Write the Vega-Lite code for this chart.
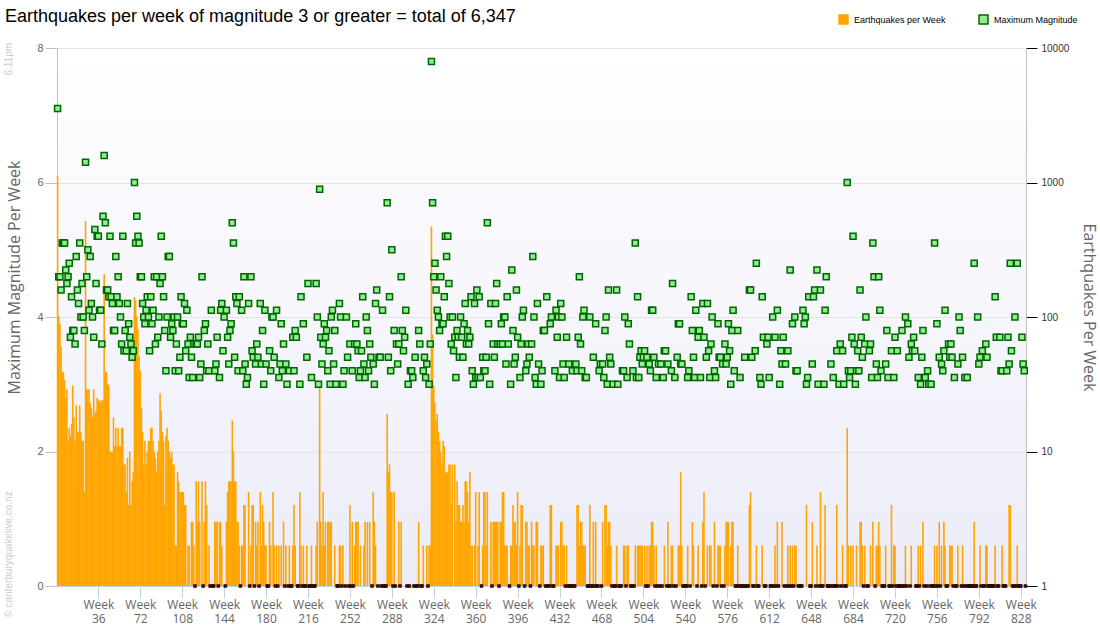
{
  "$schema": "https://vega.github.io/schema/vega-lite/v6.json",
  "width": 969,
  "height": 538,
  "autosize": {"type": "none"},
  "padding": {"left": 57, "top": 48, "right": 74, "bottom": 54},
  "background": "#ffffff",
  "title": {
    "text": "Earthquakes per week of magnitude 3 or greater = total of 6,347",
    "anchor": "start",
    "frame": "group",
    "dx": -52,
    "offset": -12,
    "font": "Liberation Sans",
    "fontSize": 18,
    "fontWeight": "normal",
    "color": "#000000"
  },
  "config": {
    "view": {
      "stroke": null,
      "fill": {"gradient": "linear", "x1": 0, "y1": 0, "x2": 0, "y2": 1,
        "stops": [{"offset": 0, "color": "#ffffff"}, {"offset": 1, "color": "#ececf8"}]}
    },
    "axis": {"labelFont": "Liberation Sans", "titleFont": "Open Sans", "titleFontWeight": "normal"}
  },
  "data": {"values": [
{"w":1,"n":1120,"m":7.1},{"w":2,"n":101,"m":4.6},{"w":3,"n":89,"m":4.6},{"w":4,"n":60,"m":4.4},{"w":5,"n":39,"m":5.1},{"w":6,"n":39,"m":5.1},{"w":7,"n":34,"m":5.1},{"w":8,"n":25,"m":4.7},{"w":9,"n":29,"m":4.5},{"w":10,"n":12,"m":4.6},
{"w":11,"n":15,"m":4.8},{"w":12,"n":13,"m":3.7},{"w":13,"n":16,"m":4.3},{"w":14,"n":31,"m":3.8},{"w":15,"n":18,"m":3.8},{"w":16,"n":12,"m":3.6},{"w":17,"n":22,"m":4.9},{"w":18,"n":14,"m":4.4},{"w":19,"n":14,"m":4.2},{"w":20,"n":22,"m":5.1},
{"w":21,"n":14,"m":4.0},{"w":22,"n":12,"m":4.5},{"w":23,"n":12,"m":4.0},{"w":24,"n":5,"m":3.8},{"w":25,"n":518,"m":6.3},{"w":26,"n":29,"m":4.6},{"w":27,"n":29,"m":5.0},{"w":28,"n":29,"m":4.1},{"w":29,"n":23,"m":4.9},{"w":30,"n":21,"m":4.2},
{"w":31,"n":18,"m":4.0},{"w":32,"n":29,"m":3.7},{"w":33,"n":19,"m":5.3},{"w":34,"n":20,"m":4.5},{"w":35,"n":25,"m":5.2},{"w":36,"n":24,"m":5.2},{"w":37,"n":24,"m":4.1},{"w":38,"n":23,"m":4.1},{"w":39,"n":24,"m":3.6},{"w":40,"n":24,"m":5.5},
{"w":41,"n":208,"m":6.4},{"w":42,"n":39,"m":5.4},{"w":43,"n":39,"m":4.4},{"w":44,"n":32,"m":4.4},{"w":45,"n":31,"m":4.3},{"w":46,"n":10,"m":5.2},{"w":47,"n":10,"m":4.3},{"w":48,"n":10,"m":4.2},{"w":49,"n":18,"m":3.8},{"w":50,"n":11,"m":3.8},
{"w":51,"n":15,"m":4.9},{"w":52,"n":11,"m":4.3},{"w":53,"n":15,"m":4.6},{"w":54,"n":11,"m":4.2},{"w":55,"n":11,"m":4.0},{"w":56,"n":15,"m":3.6},{"w":57,"n":15,"m":5.2},{"w":58,"n":8,"m":3.5},{"w":59,"n":8,"m":3.8},{"w":60,"n":5,"m":3.5},
{"w":61,"n":9,"m":4.2},{"w":62,"n":4,"m":3.9},{"w":63,"n":10,"m":3.7},{"w":64,"n":4,"m":3.6},{"w":65,"n":6,"m":3.4},{"w":66,"n":7,"m":3.5},{"w":67,"n":140,"m":6.0},{"w":68,"n":133,"m":5.1},{"w":69,"n":101,"m":5.5},{"w":70,"n":81,"m":5.2},
{"w":71,"n":51,"m":5.1},{"w":72,"n":40,"m":4.6},{"w":73,"n":21,"m":4.6},{"w":74,"n":14,"m":4.2},{"w":75,"n":8,"m":4.0},{"w":76,"n":12,"m":3.9},{"w":77,"n":8,"m":4.1},{"w":78,"n":10,"m":4.3},{"w":79,"n":12,"m":4.0},{"w":80,"n":12,"m":3.5},
{"w":81,"n":15,"m":4.3},{"w":82,"n":15,"m":3.9},{"w":83,"n":12,"m":4.1},{"w":84,"n":10,"m":4.6},{"w":85,"n":9,"m":3.6},{"w":86,"n":7,"m":4.6},{"w":87,"n":10,"m":3.7},{"w":88,"n":12,"m":4.0},{"w":89,"n":27,"m":4.5},{"w":90,"n":20,"m":5.2},
{"w":91,"n":14,"m":4.6},{"w":92,"n":12,"m":4.3},{"w":93,"n":4,"m":3.8},{"w":94,"n":13,"m":3.2},{"w":95,"n":15,"m":4.0},{"w":96,"n":12,"m":4.9},{"w":97,"n":10,"m":4.9},{"w":98,"n":9,"m":3.7},{"w":99,"n":10,"m":3.9},{"w":100,"n":8,"m":3.8},
{"w":101,"n":8,"m":4.0},{"w":102,"n":2,"m":3.2},{"w":103,"n":2,"m":3.6},{"w":104,"n":7,"m":4.0},{"w":105,"n":6,"m":3.2},{"w":106,"n":5,"m":3.4},{"w":107,"n":5,"m":4.3},{"w":108,"n":5,"m":3.9},{"w":109,"n":5,"m":3.9},{"w":110,"n":4,"m":4.2},
{"w":111,"n":4,"m":3.5},{"w":112,"n":1,"m":4.1},{"w":113,"n":2,"m":3.6},{"w":114,"n":2,"m":3.1},{"w":115,"n":1,"m":3.7},{"w":116,"n":3,"m":3.4},{"w":117,"n":3,"m":3.1},{"w":118,"n":2,"m":3.6},{"w":119,"n":0,"m":0},{"w":120,"n":6,"m":3.6},
{"w":121,"n":3,"m":3.6},{"w":122,"n":6,"m":3.7},{"w":123,"n":3,"m":3.1},{"w":124,"n":1,"m":3.3},{"w":125,"n":6,"m":4.6},{"w":126,"n":0,"m":0},{"w":127,"n":3,"m":3.8},{"w":128,"n":6,"m":3.9},{"w":129,"n":4,"m":3.2},{"w":130,"n":1,"m":3.6},
{"w":131,"n":2,"m":3.2},{"w":132,"n":0,"m":0},{"w":133,"n":1,"m":4.1},{"w":134,"n":0,"m":0},{"w":135,"n":0,"m":0},{"w":136,"n":3,"m":3.2},{"w":137,"n":3,"m":3.3},{"w":138,"n":3,"m":3.7},{"w":139,"n":0,"m":0},{"w":140,"n":3,"m":3.1},
{"w":141,"n":3,"m":4.1},{"w":142,"n":2,"m":4.2},{"w":143,"n":1,"m":3.5},{"w":144,"n":1,"m":4.0},{"w":145,"n":0,"m":0},{"w":146,"n":3,"m":4.1},{"w":147,"n":5,"m":3.7},{"w":148,"n":6,"m":3.3},{"w":149,"n":6,"m":3.8},{"w":150,"n":6,"m":3.9},
{"w":151,"n":17,"m":5.4},{"w":152,"n":10,"m":5.1},{"w":153,"n":6,"m":3.4},{"w":154,"n":6,"m":4.3},{"w":155,"n":3,"m":4.2},{"w":156,"n":3,"m":3.2},{"w":157,"n":2,"m":4.3},{"w":158,"n":0,"m":0},{"w":159,"n":2,"m":4.1},{"w":160,"n":2,"m":3.2},
{"w":161,"n":4,"m":4.6},{"w":162,"n":4,"m":3.3},{"w":163,"n":1,"m":3.0},{"w":164,"n":1,"m":3.1},{"w":165,"n":5,"m":4.2},{"w":166,"n":0,"m":0},{"w":167,"n":2,"m":4.6},{"w":168,"n":4,"m":3.5},{"w":169,"n":4,"m":3.4},{"w":170,"n":0,"m":0},
{"w":171,"n":3,"m":3.3},{"w":172,"n":2,"m":3.6},{"w":173,"n":3,"m":3.4},{"w":174,"n":0,"m":0},{"w":175,"n":5,"m":4.2},{"w":176,"n":2,"m":3.3},{"w":177,"n":4,"m":3.8},{"w":178,"n":3,"m":3.0},{"w":179,"n":2,"m":4.1},{"w":180,"n":2,"m":3.3},
{"w":181,"n":0,"m":0},{"w":182,"n":0,"m":0},{"w":183,"n":3,"m":3.5},{"w":184,"n":2,"m":3.2},{"w":185,"n":1,"m":4.0},{"w":186,"n":5,"m":4.0},{"w":187,"n":2,"m":3.4},{"w":188,"n":0,"m":0},{"w":189,"n":2,"m":4.1},{"w":190,"n":0,"m":0},
{"w":191,"n":2,"m":3.1},{"w":192,"n":1,"m":3.3},{"w":193,"n":2,"m":3.9},{"w":194,"n":1,"m":3.2},{"w":195,"n":3,"m":3.6},{"w":196,"n":0,"m":0},{"w":197,"n":2,"m":3.3},{"w":198,"n":1,"m":3.0},{"w":199,"n":0,"m":0},{"w":200,"n":2,"m":3.2},
{"w":201,"n":0,"m":0},{"w":202,"n":0,"m":0},{"w":203,"n":2,"m":3.7},{"w":204,"n":4,"m":3.2},{"w":205,"n":2,"m":3.8},{"w":206,"n":1,"m":3.7},{"w":207,"n":0,"m":0},{"w":208,"n":0,"m":0},{"w":209,"n":5,"m":3.0},{"w":210,"n":2,"m":4.3},
{"w":211,"n":0,"m":0},{"w":212,"n":2,"m":3.9},{"w":213,"n":0,"m":0},{"w":214,"n":0,"m":0},{"w":215,"n":2,"m":3.4},{"w":216,"n":1,"m":4.5},{"w":217,"n":0,"m":0},{"w":218,"n":0,"m":0},{"w":219,"n":2,"m":3.1},{"w":220,"n":0,"m":0},
{"w":221,"n":0,"m":0},{"w":222,"n":0,"m":0},{"w":223,"n":2,"m":4.5},{"w":224,"n":3,"m":4.0},{"w":225,"n":1,"m":3.0},{"w":226,"n":30,"m":5.9},{"w":227,"n":3,"m":3.7},{"w":228,"n":2,"m":3.3},{"w":229,"n":5,"m":3.6},{"w":230,"n":2,"m":3.9},
{"w":231,"n":3,"m":3.7},{"w":232,"n":1,"m":3.8},{"w":233,"n":3,"m":3.2},{"w":234,"n":3,"m":3.5},{"w":235,"n":3,"m":3.0},{"w":236,"n":3,"m":4.0},{"w":237,"n":1,"m":4.1},{"w":238,"n":1,"m":3.3},{"w":239,"n":2,"m":3.8},{"w":240,"n":1,"m":3.0},
{"w":241,"n":0,"m":0},{"w":242,"n":0,"m":0},{"w":243,"n":2,"m":4.2},{"w":244,"n":2,"m":4.0},{"w":245,"n":0,"m":0},{"w":246,"n":2,"m":3.0},{"w":247,"n":1,"m":3.2},{"w":248,"n":0,"m":0},{"w":249,"n":1,"m":4.0},{"w":250,"n":1,"m":3.4},
{"w":251,"n":0,"m":0},{"w":252,"n":4,"m":3.6},{"w":253,"n":0,"m":0},{"w":254,"n":3,"m":3.2},{"w":255,"n":0,"m":0},{"w":256,"n":2,"m":3.6},{"w":257,"n":3,"m":3.9},{"w":258,"n":3,"m":3.6},{"w":259,"n":3,"m":3.5},{"w":260,"n":1,"m":3.1},
{"w":261,"n":2,"m":3.2},{"w":262,"n":1,"m":3.5},{"w":263,"n":1,"m":4.3},{"w":264,"n":2,"m":3.3},{"w":265,"n":3,"m":3.1},{"w":266,"n":1,"m":4.0},{"w":267,"n":3,"m":3.8},{"w":268,"n":1,"m":3.2},{"w":269,"n":3,"m":3.6},{"w":270,"n":1,"m":3.4},
{"w":271,"n":0,"m":0},{"w":272,"n":5,"m":3.3},{"w":273,"n":3,"m":3.0},{"w":274,"n":2,"m":4.2},{"w":275,"n":1,"m":4.4},{"w":276,"n":0,"m":0},{"w":277,"n":1,"m":3.4},{"w":278,"n":1,"m":3.4},{"w":279,"n":0,"m":0},{"w":280,"n":1,"m":4.1},
{"w":281,"n":0,"m":0},{"w":282,"n":0,"m":0},{"w":283,"n":0,"m":0},{"w":284,"n":19,"m":5.7},{"w":285,"n":7,"m":3.4},{"w":286,"n":8,"m":4.3},{"w":287,"n":5,"m":3.2},{"w":288,"n":5,"m":5.0},{"w":289,"n":0,"m":0},{"w":290,"n":5,"m":3.8},
{"w":291,"n":0,"m":0},{"w":292,"n":1,"m":3.6},{"w":293,"n":1,"m":3.3},{"w":294,"n":3,"m":3.6},{"w":295,"n":0,"m":0},{"w":296,"n":3,"m":4.6},{"w":297,"n":1,"m":3.8},{"w":298,"n":1,"m":3.5},{"w":299,"n":1,"m":3.7},{"w":300,"n":1,"m":4.1},
{"w":301,"n":0,"m":0},{"w":302,"n":1,"m":3.0},{"w":303,"n":0,"m":0},{"w":304,"n":1,"m":3.2},{"w":305,"n":1,"m":3.2},{"w":306,"n":1,"m":3.1},{"w":307,"n":0,"m":0},{"w":308,"n":1,"m":3.4},{"w":309,"n":0,"m":0},{"w":310,"n":0,"m":0},
{"w":311,"n":3,"m":3.8},{"w":312,"n":1,"m":3.6},{"w":313,"n":0,"m":0},{"w":314,"n":0,"m":0},{"w":315,"n":2,"m":3.2},{"w":316,"n":1,"m":3.4},{"w":317,"n":1,"m":3.1},{"w":318,"n":2,"m":3.3},{"w":319,"n":0,"m":0},{"w":320,"n":2,"m":3.0},
{"w":321,"n":2,"m":3.6},{"w":322,"n":473,"m":7.8},{"w":323,"n":74,"m":5.7},{"w":324,"n":31,"m":4.6},{"w":325,"n":23,"m":4.8},{"w":326,"n":17,"m":4.4},{"w":327,"n":19,"m":4.1},{"w":328,"n":14,"m":4.0},{"w":329,"n":12,"m":3.8},{"w":330,"n":10,"m":4.6},
{"w":331,"n":8,"m":3.9},{"w":332,"n":12,"m":3.9},{"w":333,"n":11,"m":4.3},{"w":334,"n":7,"m":5.2},{"w":335,"n":7,"m":4.9},{"w":336,"n":7,"m":5.2},{"w":337,"n":8,"m":4.5},{"w":338,"n":8,"m":4.0},{"w":339,"n":4,"m":3.6},{"w":340,"n":8,"m":4.0},
{"w":341,"n":1,"m":3.5},{"w":342,"n":8,"m":3.7},{"w":343,"n":3,"m":3.1},{"w":344,"n":6,"m":3.8},{"w":345,"n":4,"m":3.7},{"w":346,"n":4,"m":3.4},{"w":347,"n":3,"m":4.0},{"w":348,"n":3,"m":3.7},{"w":349,"n":4,"m":3.4},{"w":350,"n":3,"m":3.9},
{"w":351,"n":6,"m":4.2},{"w":352,"n":6,"m":3.6},{"w":353,"n":5,"m":3.8},{"w":354,"n":3,"m":3.6},{"w":355,"n":7,"m":3.7},{"w":356,"n":2,"m":4.3},{"w":357,"n":2,"m":3.2},{"w":358,"n":1,"m":3.0},{"w":359,"n":2,"m":4.2},{"w":360,"n":5,"m":3.1},
{"w":361,"n":1,"m":4.4},{"w":362,"n":2,"m":3.1},{"w":363,"n":5,"m":4.3},{"w":364,"n":1,"m":3.1},{"w":365,"n":0,"m":0},{"w":366,"n":2,"m":3.4},{"w":367,"n":5,"m":3.2},{"w":368,"n":5,"m":3.2},{"w":369,"n":2,"m":3.4},{"w":370,"n":5,"m":5.4},
{"w":371,"n":1,"m":3.9},{"w":372,"n":1,"m":3.0},{"w":373,"n":3,"m":4.2},{"w":374,"n":0,"m":0},{"w":375,"n":3,"m":3.6},{"w":376,"n":3,"m":3.4},{"w":377,"n":3,"m":4.2},{"w":378,"n":3,"m":4.5},{"w":379,"n":3,"m":3.6},{"w":380,"n":0,"m":0},
{"w":381,"n":3,"m":3.6},{"w":382,"n":3,"m":3.9},{"w":383,"n":5,"m":3.6},{"w":384,"n":5,"m":4.0},{"w":385,"n":2,"m":4.0},{"w":386,"n":2,"m":3.3},{"w":387,"n":2,"m":4.3},{"w":388,"n":1,"m":3.6},{"w":389,"n":0,"m":0},{"w":390,"n":2,"m":3.0},
{"w":391,"n":2,"m":4.7},{"w":392,"n":4,"m":3.8},{"w":393,"n":3,"m":3.3},{"w":394,"n":3,"m":3.4},{"w":395,"n":2,"m":4.4},{"w":396,"n":5,"m":3.7},{"w":397,"n":0,"m":0},{"w":398,"n":2,"m":3.1},{"w":399,"n":4,"m":3.6},{"w":400,"n":4,"m":4.0},
{"w":401,"n":1,"m":4.1},{"w":402,"n":0,"m":0},{"w":403,"n":3,"m":3.2},{"w":404,"n":3,"m":3.3},{"w":405,"n":2,"m":3.6},{"w":406,"n":2,"m":3.4},{"w":407,"n":0,"m":0},{"w":408,"n":3,"m":3.6},{"w":409,"n":2,"m":4.9},{"w":410,"n":2,"m":4.0},
{"w":411,"n":1,"m":3.1},{"w":412,"n":3,"m":3.0},{"w":413,"n":3,"m":4.2},{"w":414,"n":1,"m":3.3},{"w":415,"n":0,"m":0},{"w":416,"n":2,"m":3.0},{"w":417,"n":2,"m":3.2},{"w":418,"n":2,"m":3.8},{"w":419,"n":1,"m":3.8},{"w":420,"n":0,"m":0},
{"w":421,"n":1,"m":4.3},{"w":422,"n":0,"m":0},{"w":423,"n":0,"m":0},{"w":424,"n":4,"m":3.9},{"w":425,"n":4,"m":4.0},{"w":426,"n":0,"m":0},{"w":427,"n":0,"m":0},{"w":428,"n":1,"m":3.2},{"w":429,"n":2,"m":4.1},{"w":430,"n":2,"m":3.7},
{"w":431,"n":2,"m":4.0},{"w":432,"n":1,"m":3.1},{"w":433,"n":3,"m":4.2},{"w":434,"n":3,"m":4.0},{"w":435,"n":2,"m":3.3},{"w":436,"n":2,"m":3.1},{"w":437,"n":0,"m":0},{"w":438,"n":2,"m":3.7},{"w":439,"n":0,"m":0},{"w":440,"n":1,"m":3.3},
{"w":441,"n":0,"m":0},{"w":442,"n":0,"m":0},{"w":443,"n":1,"m":3.2},{"w":444,"n":0,"m":0},{"w":445,"n":0,"m":0},{"w":446,"n":1,"m":3.3},{"w":447,"n":4,"m":3.2},{"w":448,"n":4,"m":3.7},{"w":449,"n":2,"m":4.6},{"w":450,"n":3,"m":3.6},
{"w":451,"n":3,"m":3.2},{"w":452,"n":2,"m":4.0},{"w":453,"n":2,"m":4.1},{"w":454,"n":2,"m":3.1},{"w":455,"n":1,"m":3.1},{"w":456,"n":0,"m":0},{"w":457,"n":0,"m":0},{"w":458,"n":4,"m":4.0},{"w":459,"n":0,"m":0},{"w":460,"n":0,"m":0},
{"w":461,"n":3,"m":3.4},{"w":462,"n":0,"m":0},{"w":463,"n":3,"m":3.9},{"w":464,"n":0,"m":0},{"w":465,"n":0,"m":0},{"w":466,"n":1,"m":3.2},{"w":467,"n":1,"m":3.3},{"w":468,"n":0,"m":0},{"w":469,"n":3,"m":3.3},{"w":470,"n":1,"m":3.1},
{"w":471,"n":4,"m":3.8},{"w":472,"n":4,"m":4.0},{"w":473,"n":2,"m":3.0},{"w":474,"n":3,"m":4.4},{"w":475,"n":3,"m":3.4},{"w":476,"n":2,"m":3.3},{"w":477,"n":0,"m":0},{"w":478,"n":1,"m":3.0},{"w":479,"n":0,"m":0},{"w":480,"n":0,"m":0},
{"w":481,"n":2,"m":4.4},{"w":482,"n":1,"m":3.0},{"w":483,"n":0,"m":0},{"w":484,"n":0,"m":0},{"w":485,"n":0,"m":0},{"w":486,"n":1,"m":3.2},{"w":487,"n":2,"m":3.2},{"w":488,"n":2,"m":4.0},{"w":489,"n":0,"m":0},{"w":490,"n":2,"m":3.1},
{"w":491,"n":2,"m":3.9},{"w":492,"n":1,"m":3.6},{"w":493,"n":0,"m":0},{"w":494,"n":0,"m":0},{"w":495,"n":1,"m":3.2},{"w":496,"n":0,"m":0},{"w":497,"n":2,"m":5.1},{"w":498,"n":1,"m":3.1},{"w":499,"n":2,"m":4.3},{"w":500,"n":2,"m":3.1},
{"w":501,"n":2,"m":3.4},{"w":502,"n":2,"m":3.5},{"w":503,"n":2,"m":3.3},{"w":504,"n":1,"m":3.4},{"w":505,"n":2,"m":3.5},{"w":506,"n":0,"m":0},{"w":507,"n":2,"m":3.4},{"w":508,"n":0,"m":0},{"w":509,"n":2,"m":3.3},{"w":510,"n":2,"m":3.2},
{"w":511,"n":3,"m":4.1},{"w":512,"n":3,"m":4.1},{"w":513,"n":2,"m":3.4},{"w":514,"n":0,"m":0},{"w":515,"n":2,"m":3.1},{"w":516,"n":0,"m":0},{"w":517,"n":1,"m":3.3},{"w":518,"n":0,"m":0},{"w":519,"n":1,"m":3.3},{"w":520,"n":0,"m":0},
{"w":521,"n":1,"m":3.1},{"w":522,"n":2,"m":3.5},{"w":523,"n":1,"m":3.5},{"w":524,"n":0,"m":0},{"w":525,"n":3,"m":3.3},{"w":526,"n":0,"m":0},{"w":527,"n":0,"m":0},{"w":528,"n":2,"m":3.2},{"w":529,"n":2,"m":4.5},{"w":530,"n":0,"m":0},
{"w":531,"n":1,"m":3.1},{"w":532,"n":0,"m":0},{"w":533,"n":1,"m":3.4},{"w":534,"n":2,"m":3.9},{"w":535,"n":2,"m":3.9},{"w":536,"n":7,"m":3.3},{"w":537,"n":2,"m":3.3},{"w":538,"n":0,"m":0},{"w":539,"n":0,"m":0},{"w":540,"n":0,"m":0},
{"w":541,"n":0,"m":0},{"w":542,"n":2,"m":3.1},{"w":543,"n":1,"m":3.2},{"w":544,"n":0,"m":0},{"w":545,"n":1,"m":4.3},{"w":546,"n":3,"m":3.8},{"w":547,"n":2,"m":3.4},{"w":548,"n":1,"m":3.1},{"w":549,"n":1,"m":4.1},{"w":550,"n":0,"m":0},
{"w":551,"n":2,"m":3.7},{"w":552,"n":1,"m":3.8},{"w":553,"n":1,"m":3.1},{"w":554,"n":0,"m":0},{"w":555,"n":3,"m":4.2},{"w":556,"n":5,"m":3.7},{"w":557,"n":0,"m":0},{"w":558,"n":1,"m":3.4},{"w":559,"n":2,"m":4.2},{"w":560,"n":1,"m":3.5},
{"w":561,"n":2,"m":3.1},{"w":562,"n":2,"m":3.6},{"w":563,"n":1,"m":4.0},{"w":564,"n":0,"m":0},{"w":565,"n":3,"m":3.2},{"w":566,"n":1,"m":3.1},{"w":567,"n":0,"m":0},{"w":568,"n":2,"m":3.9},{"w":569,"n":2,"m":3.4},{"w":570,"n":2,"m":3.4},
{"w":571,"n":0,"m":0},{"w":572,"n":1,"m":3.3},{"w":573,"n":0,"m":0},{"w":574,"n":2,"m":3.6},{"w":575,"n":3,"m":3.3},{"w":576,"n":3,"m":3.4},{"w":577,"n":3,"m":3.9},{"w":578,"n":1,"m":3.5},{"w":579,"n":2,"m":3.0},{"w":580,"n":3,"m":3.8},
{"w":581,"n":3,"m":4.1},{"w":582,"n":1,"m":3.2},{"w":583,"n":0,"m":0},{"w":584,"n":0,"m":0},{"w":585,"n":2,"m":3.8},{"w":586,"n":0,"m":0},{"w":587,"n":1,"m":3.1},{"w":588,"n":0,"m":0},{"w":589,"n":0,"m":0},{"w":590,"n":0,"m":0},
{"w":591,"n":1,"m":3.4},{"w":592,"n":0,"m":0},{"w":593,"n":0,"m":0},{"w":594,"n":0,"m":0},{"w":595,"n":4,"m":4.4},{"w":596,"n":5,"m":4.4},{"w":597,"n":1,"m":3.4},{"w":598,"n":0,"m":0},{"w":599,"n":0,"m":0},{"w":600,"n":1,"m":3.5},
{"w":601,"n":2,"m":4.8},{"w":602,"n":0,"m":0},{"w":603,"n":0,"m":0},{"w":604,"n":1,"m":3.1},{"w":605,"n":1,"m":3.0},{"w":606,"n":2,"m":4.3},{"w":607,"n":1,"m":3.7},{"w":608,"n":0,"m":0},{"w":609,"n":0,"m":0},{"w":610,"n":1,"m":3.6},
{"w":611,"n":1,"m":3.7},{"w":612,"n":1,"m":3.1},{"w":613,"n":0,"m":0},{"w":614,"n":0,"m":0},{"w":615,"n":1,"m":4.0},{"w":616,"n":0,"m":0},{"w":617,"n":2,"m":3.7},{"w":618,"n":0,"m":0},{"w":619,"n":3,"m":4.1},{"w":620,"n":0,"m":0},
{"w":621,"n":1,"m":3.0},{"w":622,"n":1,"m":3.5},{"w":623,"n":3,"m":3.3},{"w":624,"n":1,"m":3.7},{"w":625,"n":0,"m":0},{"w":626,"n":1,"m":3.3},{"w":627,"n":0,"m":0},{"w":628,"n":2,"m":3.5},{"w":629,"n":0,"m":0},{"w":630,"n":2,"m":4.7},
{"w":631,"n":0,"m":0},{"w":632,"n":2,"m":3.9},{"w":633,"n":0,"m":0},{"w":634,"n":2,"m":4.0},{"w":635,"n":2,"m":3.2},{"w":636,"n":1,"m":3.2},{"w":637,"n":0,"m":0},{"w":638,"n":0,"m":0},{"w":639,"n":0,"m":0},{"w":640,"n":0,"m":0},
{"w":641,"n":1,"m":4.1},{"w":642,"n":1,"m":3.9},{"w":643,"n":1,"m":4.0},{"w":644,"n":4,"m":3.0},{"w":645,"n":1,"m":3.1},{"w":646,"n":1,"m":4.3},{"w":647,"n":0,"m":0},{"w":648,"n":0,"m":0},{"w":649,"n":3,"m":3.3},{"w":650,"n":1,"m":4.3},
{"w":651,"n":1,"m":4.4},{"w":652,"n":0,"m":0},{"w":653,"n":2,"m":4.7},{"w":654,"n":1,"m":3.0},{"w":655,"n":0,"m":0},{"w":656,"n":5,"m":4.4},{"w":657,"n":0,"m":0},{"w":658,"n":0,"m":0},{"w":659,"n":1,"m":3.0},{"w":660,"n":4,"m":4.1},
{"w":661,"n":1,"m":4.6},{"w":662,"n":0,"m":0},{"w":663,"n":0,"m":0},{"w":664,"n":0,"m":0},{"w":665,"n":1,"m":3.3},{"w":666,"n":0,"m":0},{"w":667,"n":1,"m":3.1},{"w":668,"n":0,"m":0},{"w":669,"n":0,"m":0},{"w":670,"n":4,"m":3.5},
{"w":671,"n":0,"m":0},{"w":672,"n":1,"m":3.0},{"w":673,"n":1,"m":3.6},{"w":674,"n":0,"m":0},{"w":675,"n":2,"m":3.5},{"w":676,"n":1,"m":3.0},{"w":677,"n":0,"m":0},{"w":678,"n":0,"m":0},{"w":679,"n":15,"m":6.0},{"w":680,"n":2,"m":3.2},
{"w":681,"n":1,"m":3.1},{"w":682,"n":2,"m":3.2},{"w":683,"n":1,"m":3.7},{"w":684,"n":2,"m":5.2},{"w":685,"n":1,"m":3.6},{"w":686,"n":1,"m":3.0},{"w":687,"n":2,"m":3.2},{"w":688,"n":1,"m":3.5},{"w":689,"n":1,"m":3.2},{"w":690,"n":3,"m":4.4},
{"w":691,"n":3,"m":3.7},{"w":692,"n":2,"m":3.4},{"w":693,"n":0,"m":0},{"w":694,"n":2,"m":3.6},{"w":695,"n":1,"m":4.0},{"w":696,"n":0,"m":0},{"w":697,"n":0,"m":0},{"w":698,"n":1,"m":3.5},{"w":699,"n":2,"m":3.6},{"w":700,"n":1,"m":3.1},
{"w":701,"n":3,"m":5.1},{"w":702,"n":1,"m":4.6},{"w":703,"n":0,"m":0},{"w":704,"n":2,"m":3.3},{"w":705,"n":2,"m":3.1},{"w":706,"n":3,"m":4.6},{"w":707,"n":2,"m":4.1},{"w":708,"n":1,"m":3.2},{"w":709,"n":0,"m":0},{"w":710,"n":0,"m":0},
{"w":711,"n":0,"m":0},{"w":712,"n":2,"m":3.3},{"w":713,"n":1,"m":3.8},{"w":714,"n":1,"m":3.1},{"w":715,"n":0,"m":0},{"w":716,"n":0,"m":0},{"w":717,"n":4,"m":3.5},{"w":718,"n":0,"m":0},{"w":719,"n":2,"m":3.1},{"w":720,"n":2,"m":3.7},
{"w":721,"n":0,"m":0},{"w":722,"n":1,"m":3.5},{"w":723,"n":0,"m":0},{"w":724,"n":0,"m":0},{"w":725,"n":0,"m":0},{"w":726,"n":1,"m":3.8},{"w":727,"n":0,"m":0},{"w":728,"n":0,"m":0},{"w":729,"n":2,"m":4.0},{"w":730,"n":0,"m":0},
{"w":731,"n":1,"m":3.9},{"w":732,"n":1,"m":3.4},{"w":733,"n":0,"m":0},{"w":734,"n":2,"m":3.6},{"w":735,"n":1,"m":3.5},{"w":736,"n":1,"m":3.7},{"w":737,"n":1,"m":3.5},{"w":738,"n":0,"m":0},{"w":739,"n":0,"m":0},{"w":740,"n":2,"m":3.1},
{"w":741,"n":0,"m":0},{"w":742,"n":2,"m":3.0},{"w":743,"n":1,"m":3.4},{"w":744,"n":3,"m":3.8},{"w":745,"n":0,"m":0},{"w":746,"n":1,"m":3.1},{"w":747,"n":0,"m":0},{"w":748,"n":1,"m":3.2},{"w":749,"n":1,"m":3.0},{"w":750,"n":0,"m":0},
{"w":751,"n":1,"m":3.0},{"w":752,"n":0,"m":0},{"w":753,"n":0,"m":0},{"w":754,"n":2,"m":5.1},{"w":755,"n":0,"m":0},{"w":756,"n":2,"m":3.9},{"w":757,"n":0,"m":0},{"w":758,"n":3,"m":3.4},{"w":759,"n":0,"m":0},{"w":760,"n":2,"m":3.3},
{"w":761,"n":1,"m":3.2},{"w":762,"n":3,"m":3.5},{"w":763,"n":2,"m":4.1},{"w":764,"n":0,"m":0},{"w":765,"n":0,"m":0},{"w":766,"n":1,"m":3.6},{"w":767,"n":2,"m":3.4},{"w":768,"n":2,"m":3.6},{"w":769,"n":2,"m":3.4},{"w":770,"n":0,"m":0},
{"w":771,"n":1,"m":3.1},{"w":772,"n":0,"m":0},{"w":773,"n":0,"m":0},{"w":774,"n":2,"m":3.3},{"w":775,"n":1,"m":4.0},{"w":776,"n":1,"m":3.8},{"w":777,"n":0,"m":0},{"w":778,"n":2,"m":3.4},{"w":779,"n":0,"m":0},{"w":780,"n":1,"m":3.1},
{"w":781,"n":0,"m":0},{"w":782,"n":1,"m":3.1},{"w":783,"n":0,"m":0},{"w":784,"n":0,"m":0},{"w":785,"n":0,"m":0},{"w":786,"n":0,"m":0},{"w":787,"n":0,"m":0},{"w":788,"n":3,"m":4.8},{"w":789,"n":0,"m":0},{"w":790,"n":0,"m":0},
{"w":791,"n":1,"m":4.0},{"w":792,"n":1,"m":3.3},{"w":793,"n":2,"m":3.4},{"w":794,"n":0,"m":0},{"w":795,"n":1,"m":3.5},{"w":796,"n":0,"m":0},{"w":797,"n":0,"m":0},{"w":798,"n":2,"m":3.6},{"w":799,"n":2,"m":3.4},{"w":800,"n":0,"m":0},
{"w":801,"n":0,"m":0},{"w":802,"n":0,"m":0},{"w":803,"n":0,"m":0},{"w":804,"n":0,"m":0},{"w":805,"n":0,"m":0},{"w":806,"n":2,"m":4.3},{"w":807,"n":1,"m":3.7},{"w":808,"n":0,"m":0},{"w":809,"n":0,"m":0},{"w":810,"n":1,"m":3.7},
{"w":811,"n":1,"m":3.2},{"w":812,"n":2,"m":3.2},{"w":813,"n":0,"m":0},{"w":814,"n":0,"m":0},{"w":815,"n":0,"m":0},{"w":816,"n":1,"m":3.2},{"w":817,"n":1,"m":3.7},{"w":818,"n":4,"m":3.3},{"w":819,"n":4,"m":4.8},{"w":820,"n":1,"m":3.5},
{"w":821,"n":0,"m":0},{"w":822,"n":0,"m":0},{"w":823,"n":1,"m":4.0},{"w":824,"n":0,"m":0},{"w":825,"n":2,"m":4.8},{"w":826,"n":0,"m":0},{"w":827,"n":0,"m":0},{"w":828,"n":0,"m":0},{"w":829,"n":1,"m":3.7},{"w":830,"n":1,"m":3.3},
{"w":831,"n":1,"m":3.2},{"w":832,"n":0,"m":0}
  ]},
  "encoding": {
    "x": {
      "field": "w",
      "type": "quantitative",
      "scale": {"domain": [0.5, 832.5], "nice": false, "zero": false, "padding": 0},
      "axis": {
        "values": [36, 72, 108, 144, 180, 216, 252, 288, 324, 360, 396, 432, 468, 504, 540, 576, 612, 648, 684, 720, 756, 792, 828],
        "labelExpr": "['Week', datum.label]",
        "title": null,
        "grid": false,
        "domainColor": "#C0D0E0",
        "tickColor": "#C0D0E0",
        "tickSize": 12,
        "labelColor": "#666666",
        "labelFont": "Open Sans",
        "labelFontSize": 12,
        "labelPadding": 1,
        "labelLineHeight": 14,
        "labelAngle": 0,
        "labelOverlap": false,
        "labelFlush": false
      }
    }
  },
  "layer": [
    {
      "transform": [{"filter": "datum.n > 0"}],
      "mark": {"type": "bar", "width": 1.6, "strokeWidth": 0},
      "encoding": {
        "y": {
          "field": "n",
          "type": "quantitative",
          "scale": {"type": "log", "domain": [1, 10000], "nice": false},
          "axis": {
            "orient": "right",
            "values": [1, 10, 100, 1000, 10000],
            "format": "d",
            "title": "Earthquakes Per Week",
            "titleColor": "#666666",
            "titleFontSize": 16,
            "titlePadding": 12,
            "titleY": 259,
            "labelColor": "#333333",
            "labelFontSize": 10,
            "labelPadding": 4,
            "tickColor": "#000000",
            "tickSize": 11,
            "domainColor": "#C0C0C0",
            "grid": false,
            "labelFlush": false
          }
        },
        "y2": {"datum": 1},
        "fill": {
          "datum": "Earthquakes per Week",
          "type": "nominal",
          "scale": {"domain": ["Earthquakes per Week", "Maximum Magnitude"], "range": ["#FFA500", "#90EE90"]},
          "legend": {"title": null, "orient": "none", "legendX": 781, "legendY": -34, "direction": "horizontal", "columns": 2, "columnPadding": 30, "symbolType": "square", "symbolSize": 80, "symbolStrokeWidth": 1.5, "labelFont": "Liberation Sans", "labelFontSize": 9, "labelColor": "#000000", "labelOffset": 5}
        },
        "stroke": {
          "datum": "Earthquakes per Week",
          "type": "nominal",
          "scale": {"domain": ["Earthquakes per Week", "Maximum Magnitude"], "range": ["#FFA500", "#006400"]},
          "legend": {"title": null, "orient": "none", "legendX": 781, "legendY": -34, "direction": "horizontal", "columns": 2, "columnPadding": 30, "symbolType": "square", "symbolSize": 80, "symbolStrokeWidth": 1.5, "labelFont": "Liberation Sans", "labelFontSize": 9, "labelColor": "#000000", "labelOffset": 5}
        }
      }
    },
    {
      "mark": {"type": "point", "shape": "square", "filled": true, "opacity": 1},
      "encoding": {
        "y": {
          "field": "m",
          "type": "quantitative",
          "scale": {"domain": [0, 8], "nice": false},
          "axis": {
            "orient": "left",
            "values": [0, 2, 4, 6, 8],
            "title": "Maximum Magnitude Per Week",
            "titleColor": "#666666",
            "titleFontSize": 16,
            "titlePadding": 14,
            "titleY": 229,
            "labelColor": "#666666",
            "labelFontSize": 11,
            "labelPadding": 2,
            "tickColor": "#C0C0C0",
            "tickSize": 12,
            "domainColor": "#C0C0C0",
            "grid": true,
            "gridColor": "#E4E4E4",
            "labelFlush": false
          }
        },
        "fill": {"condition": {"test": "datum.n == 0", "value": "#3a0c00"}, "datum": "Maximum Magnitude", "type": "nominal"},
        "stroke": {"condition": {"test": "datum.n == 0", "value": "#1e0500"}, "datum": "Maximum Magnitude", "type": "nominal"},
        "strokeWidth": {"condition": {"test": "datum.n == 0", "value": 0.5}, "value": 1.5},
        "size": {"condition": {"test": "datum.n == 0", "value": 9}, "value": 36}
      }
    },
    {
      "mark": {"type": "point", "opacity": 0},
      "encoding": {
        "y": {
          "field": "m",
          "type": "quantitative",
          "scale": {"domain": [0, 8], "nice": false},
          "axis": {
            "orient": "left",
            "offset": 49,
            "values": [0.476, 7.84],
            "labelExpr": "datum.value > 4 ? '6:11pm' : '© canterburyquakelive.co.nz'",
            "labelAngle": -90,
            "labelAlign": "center",
            "labelBaseline": "middle",
            "labelPadding": 0,
            "labelColor": "#cccccc",
            "labelFontSize": 10,
            "labelOverlap": false,
            "labelFlush": false,
            "ticks": false,
            "domain": false,
            "grid": false,
            "title": null
          }
        }
      }
    }
  ],
  "resolve": {"scale": {"y": "independent"}, "axis": {"y": "independent"}}
}
